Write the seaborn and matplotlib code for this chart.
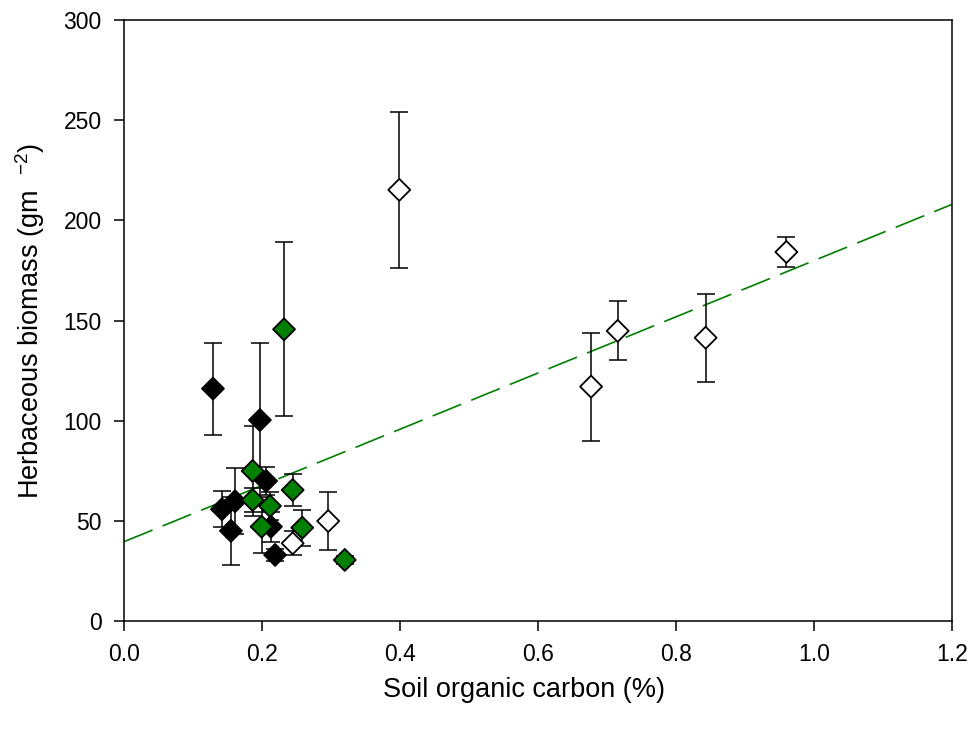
import matplotlib
matplotlib.use("Agg")
import matplotlib.pyplot as plt
import seaborn as sns
import numpy as np
import pandas as pd

# Soil organic carbon (%) vs herbaceous biomass (g m^-2), mean ± error
black_soc = [0.129, 0.142, 0.155, 0.161, 0.197, 0.206, 0.213, 0.219]
black_bio = [116.0, 55.8, 45.0, 59.8, 100.3, 69.9, 47.1, 33.0]
black_err = [23.0, 9.0, 17.0, 16.6, 38.3, 7.0, 7.5, 3.0]

green_soc = [0.1865, 0.1865, 0.1995, 0.2116, 0.232, 0.2445, 0.2584, 0.320]
green_bio = [74.9, 60.4, 47.1, 57.4, 145.6, 65.4, 46.6, 30.5]
green_err = [22.6, 6.0, 13.0, 7.0, 43.5, 8.0, 9.0, 2.0]

open_soc = [0.2445, 0.296, 0.399, 0.677, 0.7155, 0.843, 0.960]
open_bio = [38.8, 49.9, 215.2, 117.0, 144.8, 141.4, 184.2]
open_err = [6.0, 14.3, 39.0, 27.0, 14.7, 22.0, 7.6]

# Fitted regression line
fit_intercept = 39.6
fit_slope = 140.3

x_ticks = [0.0, 0.2, 0.4, 0.6, 0.8, 1.0, 1.2]
y_ticks = [0, 50, 100, 150, 200, 250, 300]

GREEN = "#007f00"

sns.set_style("ticks")
plt.rcParams["font.family"] = ["Liberation Sans", "DejaVu Sans"]
plt.rcParams["mathtext.fontset"] = "custom"
plt.rcParams["mathtext.rm"] = "Liberation Sans"
plt.rcParams["mathtext.it"] = "Liberation Sans"
plt.rcParams["mathtext.default"] = "regular"
plt.rcParams["text.color"] = "black"
plt.rcParams["axes.labelcolor"] = "black"

df = pd.concat([
    pd.DataFrame({"soc": black_soc, "bio": black_bio, "err": black_err, "group": "black"}),
    pd.DataFrame({"soc": green_soc, "bio": green_bio, "err": green_err, "group": "green"}),
    pd.DataFrame({"soc": open_soc, "bio": open_bio, "err": open_err, "group": "open"}),
], ignore_index=True)

fig = plt.figure(figsize=(9.73, 7.29), dpi=100)
ax = fig.add_axes([0.1274, 0.1481, 0.851, 0.8245])

# regression line across the full x range
xl = np.array([0.0, 1.2])
ax.plot(xl, fit_intercept + fit_slope * xl, color=GREEN, lw=1.2,
        dashes=(18.5, 6.5), zorder=1)

# error bars
ax.errorbar(df["soc"], df["bio"], yerr=df["err"], fmt="none", ecolor="black",
            elinewidth=1.1, capsize=6.5, capthick=1.1, zorder=2)

palette = {"black": "black", "green": GREEN, "open": "white"}
sns.scatterplot(data=df, x="soc", y="bio", hue="group", palette=palette,
                marker="D", s=125, edgecolor="black", linewidth=1.3,
                legend=False, ax=ax, zorder=3)

ax.set_xlim(0, 1.2)
ax.set_ylim(0, 300)
ax.set_xticks(x_ticks)
ax.set_xticklabels([f"{v:.1f}" for v in x_ticks])
ax.set_yticks(y_ticks)
ax.tick_params(axis="both", direction="out", length=7, width=1.1,
               labelsize=16.5, colors="black", pad=9)
ax.tick_params(top=False, right=False)
for sp in ax.spines.values():
    sp.set_visible(True)
    sp.set_linewidth(1.1)
    sp.set_color("black")

ax.set_xlabel("Soil organic carbon (%)", fontsize=19.5)
ax.xaxis.set_label_coords(0.483, -0.093)
ax.set_ylabel("Herbaceous biomass (gm  $^{-2}$)", fontsize=19.5, labelpad=12)

fig.savefig("out.png", dpi=100)
